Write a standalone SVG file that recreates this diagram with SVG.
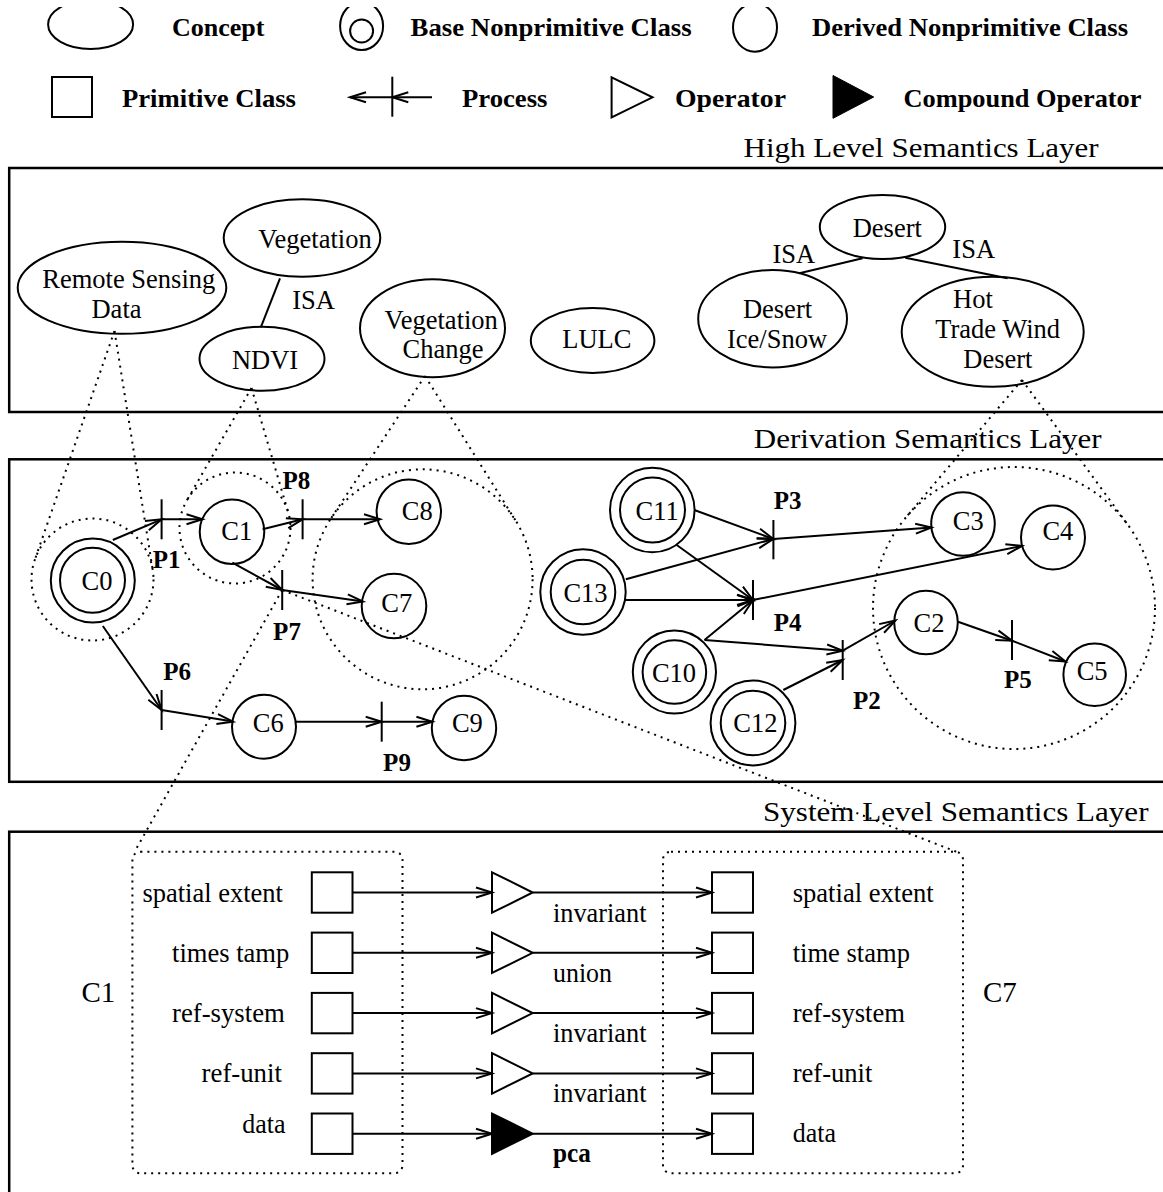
<svg xmlns="http://www.w3.org/2000/svg" width="1163" height="1192" viewBox="0 0 1163 1192">
  <defs>
    <style>
      .s { fill: none; stroke: #000; stroke-width: 2; }
      .box { fill: none; stroke: #000; stroke-width: 2.5; }
      .dot { fill: none; stroke: #000; stroke-width: 2; stroke-dasharray: 2 5; }
      .ln { fill: none; stroke: #000; stroke-width: 2; }
      .arr { fill: none; stroke: #000; stroke-width: 2; marker-end: url(#open); }
      .t { font-family: 'Liberation Serif', 'Times New Roman', serif; font-size: 26.5px; fill: #000; }
      .m { text-anchor: middle; }
      .b { font-weight: bold; }
      .lg { font-family: 'Liberation Serif', 'Times New Roman', serif; font-size: 26px; font-weight: bold; fill: #000; }
      .pl { font-family: 'Liberation Serif', 'Times New Roman', serif; font-size: 25px; font-weight: bold; text-anchor: middle; fill: #000; }
      .ttl { font-family: 'Liberation Serif', 'Times New Roman', serif; font-size: 28px; fill: #000; }
      .big { font-family: 'Liberation Serif', 'Times New Roman', serif; font-size: 29px; fill: #000; }
    </style>
    <marker id="open" markerUnits="userSpaceOnUse" markerWidth="22" markerHeight="16" viewBox="-19 -8 22 16" refX="0" refY="0" orient="auto" overflow="visible">
      <path d="M-16,-5 L0,0 L-16,5" fill="none" stroke="#000" stroke-width="2"/>
    </marker>
    <clipPath id="legclip"><rect x="0" y="7" width="1163" height="130"/></clipPath>
  </defs>

  <rect width="1163" height="1192" fill="#fff"/>

  <!-- legend -->
  <g id="legend">
    <g clip-path="url(#legclip)">
      <ellipse class="s" cx="90.6" cy="24.5" rx="42.5" ry="24.5"/>
      <ellipse class="s" cx="361.6" cy="26" rx="21.5" ry="24"/>
      <circle class="s" cx="361.6" cy="31" r="11.5"/>
      <ellipse class="s" cx="755" cy="27.5" rx="22" ry="24.2"/>
    </g>
    <text class="lg" x="172" y="36" textLength="92.5" lengthAdjust="spacingAndGlyphs">Concept</text>
    <text class="lg" x="410.6" y="36" textLength="281" lengthAdjust="spacingAndGlyphs">Base Nonprimitive Class</text>
    <text class="lg" x="812" y="36" textLength="316" lengthAdjust="spacingAndGlyphs">Derived Nonprimitive Class</text>

    <rect class="s" x="52" y="77" width="40" height="40"/>
    <text class="lg" x="122" y="107.3" textLength="174" lengthAdjust="spacingAndGlyphs">Primitive Class</text>
    <line class="arr" x1="432" y1="97.3" x2="392.3" y2="97.3"/>
    <line class="arr" x1="392.3" y1="97.3" x2="350" y2="97.3"/>
    <line class="ln" x1="392.3" y1="76.7" x2="392.3" y2="116.7"/>
    <text class="lg" x="462" y="107.3" textLength="85.5" lengthAdjust="spacingAndGlyphs">Process</text>
    <polygon class="s" points="611.6,77.3 611.6,117.3 652.5,97.3"/>
    <text class="lg" x="675" y="107.3" textLength="111" lengthAdjust="spacingAndGlyphs">Operator</text>
    <polygon points="833,75.5 833,118.3 873.7,97" fill="#000" stroke="#000" stroke-width="1"/>
    <text class="lg" x="903.5" y="107.3" textLength="238" lengthAdjust="spacingAndGlyphs">Compound Operator</text>
  </g>

  <!-- layer frames and titles -->
  <g id="layers">
    <text class="ttl" x="743.6" y="157.3" textLength="355" lengthAdjust="spacingAndGlyphs">High Level Semantics Layer</text>
    <rect class="box" x="9.2" y="168" width="1170" height="244"/>
    <text class="ttl" x="753.8" y="448.3" textLength="347.7" lengthAdjust="spacingAndGlyphs">Derivation Semantics Layer</text>
    <rect class="box" x="9.2" y="459.3" width="1170" height="322.5"/>
    <text class="ttl" x="763" y="820.7" textLength="385.5" lengthAdjust="spacingAndGlyphs">System Level Semantics Layer</text>
    <rect class="box" x="9.2" y="831.7" width="1170" height="400"/>
  </g>

  <!-- concept-to-class projections -->
  <g id="projections">
    <circle class="dot" cx="92.5" cy="579.5" r="61"/>
    <line class="dot" x1="114.5" y1="331" x2="34.9" y2="559.5"/>
    <line class="dot" x1="114.5" y1="331" x2="152.7" y2="569.8"/>
    <circle class="dot" cx="235" cy="528" r="55.5"/>
    <line class="dot" x1="251.5" y1="388" x2="186.9" y2="500.3"/>
    <line class="dot" x1="251.5" y1="388" x2="288.2" y2="512.3"/>
    <circle class="dot" cx="422.6" cy="579.3" r="110"/>
    <line class="dot" x1="425" y1="376" x2="330.8" y2="518.7"/>
    <line class="dot" x1="425" y1="376" x2="515.8" y2="520.9"/>
    <circle class="dot" cx="1014" cy="608" r="141"/>
    <line class="dot" x1="1022" y1="380" x2="906.3" y2="517"/>
    <line class="dot" x1="1022" y1="380" x2="1127.8" y2="524.7"/>
    <line class="dot" x1="282.2" y1="590" x2="135" y2="851"/>
    <line class="dot" x1="282.2" y1="590" x2="957" y2="852"/>
  </g>

  <!-- high level concepts -->
  <g id="remote-sensing-data">
    <ellipse class="s" cx="122" cy="287.8" rx="104.3" ry="46"/>
    <text class="t m" x="128.8" y="288.3">Remote Sensing</text>
    <text class="t m" x="116.5" y="318.3">Data</text>
  </g>
  <g id="vegetation">
    <ellipse class="s" cx="302" cy="238" rx="78.3" ry="38.7"/>
    <text class="t m" x="315" y="248.3">Vegetation</text>
  </g>
  <g id="ndvi">
    <ellipse class="s" cx="262" cy="358.7" rx="62.5" ry="32"/>
    <text class="t m" x="265" y="369.3">NDVI</text>
  </g>
  <g id="vegetation-change">
    <ellipse class="s" cx="432.5" cy="328.3" rx="72.5" ry="49"/>
    <text class="t m" x="441.2" y="329.3">Vegetation</text>
    <text class="t m" x="443" y="358.3">Change</text>
  </g>
  <g id="lulc">
    <ellipse class="s" cx="592.6" cy="340.5" rx="61.8" ry="32.5"/>
    <text class="t m" x="596.8" y="348.3">LULC</text>
  </g>
  <g id="desert">
    <ellipse class="s" cx="882.5" cy="227" rx="62.7" ry="32"/>
    <text class="t m" x="887.3" y="237.3">Desert</text>
  </g>
  <g id="desert-ice-snow">
    <ellipse class="s" cx="772.6" cy="318.7" rx="74.4" ry="48.7"/>
    <text class="t m" x="777.5" y="318.3">Desert</text>
    <text class="t m" x="777" y="348.3">Ice/Snow</text>
  </g>
  <g id="hot-trade-wind-desert">
    <ellipse class="s" cx="992.7" cy="331.7" rx="91" ry="55"/>
    <text class="t m" x="972.9" y="308.3">Hot</text>
    <text class="t m" x="997.7" y="338.3">Trade Wind</text>
    <text class="t m" x="997.9" y="368.3">Desert</text>
  </g>

  <!-- derivation classes -->
  <g id="C0">
    <circle class="s" cx="92.8" cy="580.5" r="42"/>
    <circle class="s" cx="92.5" cy="580.3" r="32.5"/>
    <text class="t m" x="97" y="590">C0</text>
  </g>
  <g id="C1">
    <circle class="s" cx="232" cy="531.7" r="32.3"/>
    <text class="t m" x="236.8" y="540">C1</text>
  </g>
  <g id="C8">
    <circle class="s" cx="408.8" cy="511.7" r="32.2"/>
    <text class="t m" x="417.3" y="520">C8</text>
  </g>
  <g id="C7">
    <circle class="s" cx="394" cy="606" r="32.3"/>
    <text class="t m" x="396.7" y="611.7">C7</text>
  </g>
  <g id="C6">
    <circle class="s" cx="264" cy="726.7" r="32"/>
    <text class="t m" x="268.2" y="731.7">C6</text>
  </g>
  <g id="C9">
    <circle class="s" cx="464" cy="728" r="32.2"/>
    <text class="t m" x="467.4" y="731.7">C9</text>
  </g>
  <g id="C11">
    <circle class="s" cx="652.3" cy="510" r="42.3"/>
    <circle class="s" cx="652.5" cy="510" r="32.5"/>
    <text class="t m" x="657.2" y="520">C11</text>
  </g>
  <g id="C13">
    <circle class="s" cx="583" cy="592" r="42.7"/>
    <circle class="s" cx="583" cy="592" r="32.3"/>
    <text class="t m" x="585.5" y="601.7">C13</text>
  </g>
  <g id="C10">
    <circle class="s" cx="674.4" cy="672" r="41.6"/>
    <circle class="s" cx="674.4" cy="672" r="31.8"/>
    <text class="t m" x="674" y="681.7">C10</text>
  </g>
  <g id="C12">
    <circle class="s" cx="753" cy="723" r="42.4"/>
    <circle class="s" cx="753" cy="723" r="32.3"/>
    <text class="t m" x="755.3" y="731.7">C12</text>
  </g>
  <g id="C3">
    <circle class="s" cx="963" cy="524" r="31.8"/>
    <text class="t m" x="968.3" y="530">C3</text>
  </g>
  <g id="C4">
    <circle class="s" cx="1053" cy="537.5" r="32"/>
    <text class="t m" x="1057.9" y="540">C4</text>
  </g>
  <g id="C2">
    <circle class="s" cx="926" cy="622.5" r="31.8"/>
    <text class="t m" x="929" y="631.7">C2</text>
  </g>
  <g id="C5">
    <circle class="s" cx="1094.7" cy="674.7" r="31.3"/>
    <text class="t m" x="1092.1" y="680">C5</text>
  </g>

  <!-- processes -->
  <g id="P1"><line class="ln" x1="161.6" y1="499.3" x2="161.6" y2="539.3"/><text class="pl" x="166.6" y="568.3">P1</text></g>
  <g id="P8"><line class="ln" x1="302.6" y1="499.3" x2="302.6" y2="539.3"/><text class="pl" x="296.3" y="489.3">P8</text></g>
  <g id="P7"><line class="ln" x1="282.2" y1="570" x2="282.2" y2="610"/><text class="pl" x="287" y="640">P7</text></g>
  <g id="P6"><line class="ln" x1="161.6" y1="690" x2="161.6" y2="730"/><text class="pl" x="177.2" y="680">P6</text></g>
  <g id="P9"><line class="ln" x1="381.7" y1="701.7" x2="381.7" y2="741.7"/><text class="pl" x="397" y="770.7">P9</text></g>
  <g id="P3"><line class="ln" x1="773.4" y1="520" x2="773.4" y2="559.3"/><text class="pl" x="787.7" y="509.3">P3</text></g>
  <g id="P4"><line class="ln" x1="753" y1="580" x2="753" y2="620"/><text class="pl" x="787.7" y="630.5">P4</text></g>
  <g id="P2"><line class="ln" x1="842.7" y1="640" x2="842.7" y2="680"/><text class="pl" x="866.8" y="709.3">P2</text></g>
  <g id="P5"><line class="ln" x1="1012" y1="620" x2="1012" y2="660"/><text class="pl" x="1017.8" y="688.3">P5</text></g>

  <!-- system level: primitive classes and operators -->
  <g id="C1-attributes">
    <rect class="dot" x="132.4" y="851.7" width="270.1" height="321.6" rx="8"/>
    <text class="big" x="81.4" y="1001.7">C1</text>
    <text class="t" x="142.4" y="901.7" textLength="140.6" lengthAdjust="spacingAndGlyphs">spatial extent</text>
    <text class="t" x="172" y="961.7" textLength="117.3" lengthAdjust="spacingAndGlyphs">times tamp</text>
    <text class="t" x="172" y="1021.7" textLength="112.8" lengthAdjust="spacingAndGlyphs">ref-system</text>
    <text class="t" x="201.6" y="1081.7" textLength="80.3" lengthAdjust="spacingAndGlyphs">ref-unit</text>
    <text class="t" x="242.3" y="1133.3" textLength="43.3" lengthAdjust="spacingAndGlyphs">data</text>
    <rect class="s" x="311.8" y="872.3" width="40.7" height="40.4"/>
    <rect class="s" x="311.8" y="932.6" width="40.7" height="40.4"/>
    <rect class="s" x="311.8" y="992.9" width="40.7" height="40.4"/>
    <rect class="s" x="311.8" y="1053.2" width="40.7" height="40.4"/>
    <rect class="s" x="311.8" y="1113.5" width="40.7" height="40.4"/>
  </g>
  <g id="C7-attributes">
    <rect class="dot" x="663" y="851.7" width="300" height="321.6" rx="8"/>
    <text class="big" x="983" y="1001.7">C7</text>
    <text class="t" x="792.7" y="901.7" textLength="141" lengthAdjust="spacingAndGlyphs">spatial extent</text>
    <text class="t" x="792.7" y="961.7" textLength="117.3" lengthAdjust="spacingAndGlyphs">time stamp</text>
    <text class="t" x="792.7" y="1021.7" textLength="112.3" lengthAdjust="spacingAndGlyphs">ref-system</text>
    <text class="t" x="792.7" y="1081.7" textLength="79.6" lengthAdjust="spacingAndGlyphs">ref-unit</text>
    <text class="t" x="792.7" y="1141.7" textLength="43.3" lengthAdjust="spacingAndGlyphs">data</text>
    <rect class="s" x="712" y="872.3" width="41" height="40.4"/>
    <rect class="s" x="712" y="932.6" width="41" height="40.4"/>
    <rect class="s" x="712" y="992.9" width="41" height="40.4"/>
    <rect class="s" x="712" y="1053.2" width="41" height="40.4"/>
    <rect class="s" x="712" y="1113.5" width="41" height="40.4"/>
  </g>
  <g id="op-spatial-extent">
    <polygon class="s" points="492,872.3 492,912.7 532.7,892.5"/>
    <text class="t" x="553" y="921.7" textLength="93.5" lengthAdjust="spacingAndGlyphs">invariant</text>
  </g>
  <g id="op-time-stamp">
    <polygon class="s" points="492,932.6 492,973 532.7,952.8"/>
    <text class="t" x="553" y="981.7" textLength="59" lengthAdjust="spacingAndGlyphs">union</text>
  </g>
  <g id="op-ref-system">
    <polygon class="s" points="492,992.9 492,1033.3 532.7,1013.1"/>
    <text class="t" x="553" y="1041.7" textLength="93.5" lengthAdjust="spacingAndGlyphs">invariant</text>
  </g>
  <g id="op-ref-unit">
    <polygon class="s" points="492,1053.2 492,1093.6 532.7,1073.4"/>
    <text class="t" x="553" y="1101.7" textLength="93.5" lengthAdjust="spacingAndGlyphs">invariant</text>
  </g>
  <g id="op-data">
    <polygon points="492,1113.5 492,1153.9 532.7,1133.7" fill="#000" stroke="#000" stroke-width="2"/>
    <text class="t b" x="553" y="1161.7" textLength="37.8" lengthAdjust="spacingAndGlyphs">pca</text>
  </g>

  <!-- connectors -->
  <g id="connectors">
    <!-- ISA links -->
    <line class="ln" x1="280" y1="278.3" x2="260.8" y2="327.3"/>
    <line class="ln" x1="862.6" y1="258.3" x2="799.4" y2="273.3"/>
    <line class="ln" x1="905.3" y1="257.7" x2="1007.6" y2="278.3"/>
    <text class="t m" x="313.5" y="309.3">ISA</text>
    <text class="t m" x="793.8" y="263.3">ISA</text>
    <text class="t m" x="973.7" y="257.7">ISA</text>

    <!-- derivation flows -->
    <line class="arr" x1="112.8" y1="540" x2="161.6" y2="519.3"/>
    <line class="arr" x1="161.6" y1="519.3" x2="202.5" y2="519.3"/>
    <line class="arr" x1="262.6" y1="529.3" x2="302.6" y2="519.3"/>
    <line class="arr" x1="302.6" y1="519.3" x2="380" y2="519.3"/>
    <line class="arr" x1="232.3" y1="562.7" x2="282.2" y2="590"/>
    <line class="arr" x1="282.2" y1="590" x2="363" y2="601.5"/>
    <line class="arr" x1="102.8" y1="626" x2="161.6" y2="710"/>
    <line class="arr" x1="161.6" y1="710" x2="233" y2="721.6"/>
    <line class="arr" x1="296" y1="721.7" x2="381.7" y2="721.7"/>
    <line class="arr" x1="381.7" y1="721.7" x2="432.4" y2="721.7"/>

    <line class="arr" x1="694.3" y1="510" x2="773.4" y2="539"/>
    <line class="arr" x1="625.8" y1="579.3" x2="773.4" y2="539"/>
    <line class="arr" x1="773.4" y1="539" x2="931.5" y2="527.5"/>
    <line class="arr" x1="676.7" y1="545" x2="753" y2="600"/>
    <line class="arr" x1="625" y1="600" x2="753" y2="600"/>
    <line class="arr" x1="704.5" y1="640" x2="753" y2="600"/>
    <line class="arr" x1="753" y1="600" x2="1022" y2="546"/>
    <line class="arr" x1="704.5" y1="640" x2="842.7" y2="650.7"/>
    <line class="arr" x1="783.3" y1="690" x2="842.7" y2="660"/>
    <line class="arr" x1="842.7" y1="650.7" x2="895.5" y2="620.5"/>
    <line class="arr" x1="958" y1="621.7" x2="1012" y2="640.7"/>
    <line class="arr" x1="1012" y1="640.7" x2="1065.5" y2="661.5"/>

    <!-- attribute flows -->
    <line class="arr" x1="352.5" y1="892.5" x2="492" y2="892.5"/>
    <line class="arr" x1="532.7" y1="892.5" x2="712" y2="892.5"/>
    <line class="arr" x1="352.5" y1="952.8" x2="492" y2="952.8"/>
    <line class="arr" x1="532.7" y1="952.8" x2="712" y2="952.8"/>
    <line class="arr" x1="352.5" y1="1013.1" x2="492" y2="1013.1"/>
    <line class="arr" x1="532.7" y1="1013.1" x2="712" y2="1013.1"/>
    <line class="arr" x1="352.5" y1="1073.4" x2="492" y2="1073.4"/>
    <line class="arr" x1="532.7" y1="1073.4" x2="712" y2="1073.4"/>
    <line class="arr" x1="352.5" y1="1133.7" x2="492" y2="1133.7"/>
    <line class="arr" x1="532.7" y1="1133.7" x2="712" y2="1133.7"/>
  </g>
</svg>
